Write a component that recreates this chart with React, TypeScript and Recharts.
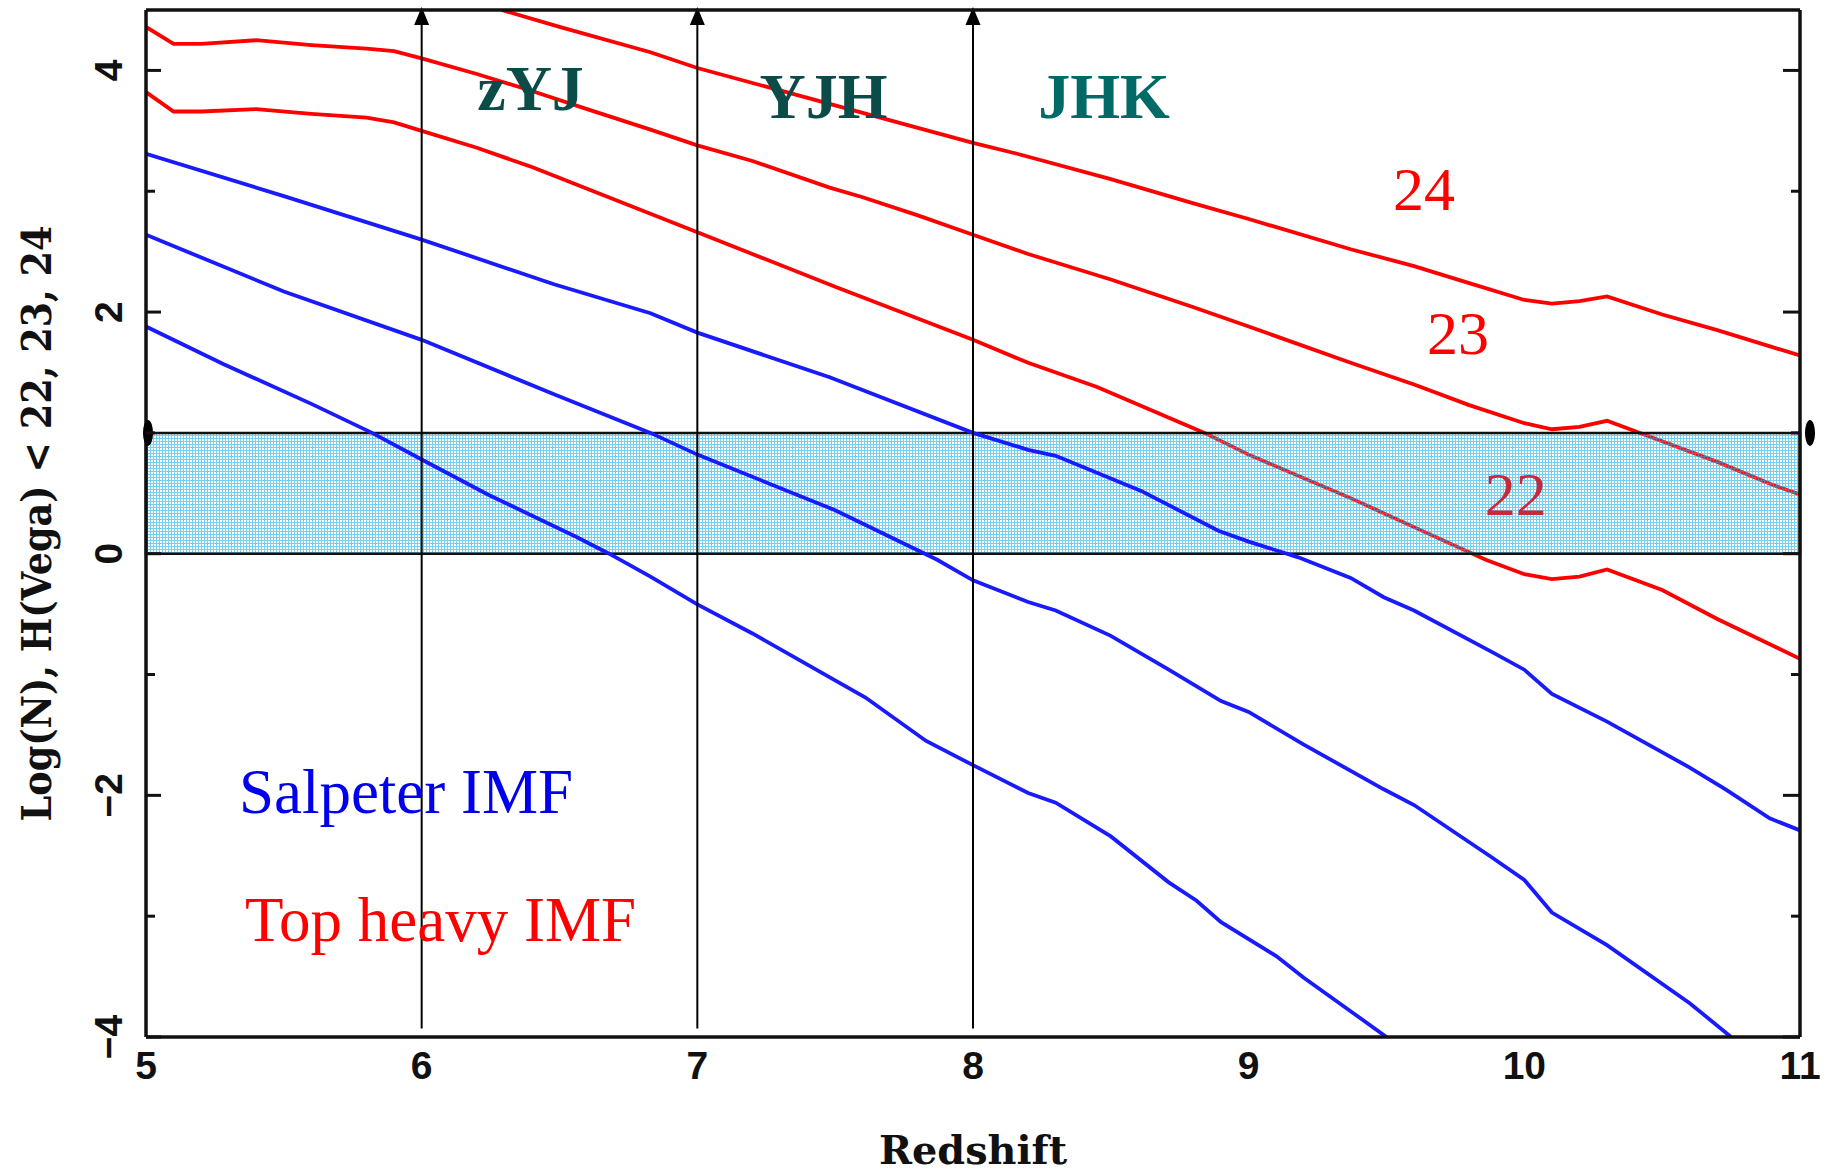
import React from 'react';
import {
  ComposedChart,
  Line,
  XAxis,
  YAxis,
  ReferenceArea,
  ReferenceLine,
  ReferenceDot,
} from 'recharts';

// ---------- data (redshift z, log N) ----------
const topHeavy24: [number, number][] = [
  [6.29, 4.5], [6.5, 4.36], [6.83, 4.15], [7.0, 4.02], [7.5, 3.71], [8.0, 3.4], [8.16, 3.31],
  [8.5, 3.1], [8.8, 2.9], [9.0, 2.77], [9.37, 2.52], [9.6, 2.38], [9.8, 2.24], [10.0, 2.1],
  [10.1, 2.07], [10.2, 2.09], [10.3, 2.13], [10.5, 1.98], [10.7, 1.85], [10.9, 1.71], [11.0, 1.64],
];
const topHeavy23: [number, number][] = [
  [5.0, 4.36], [5.1, 4.22], [5.2, 4.22], [5.4, 4.25], [5.6, 4.21], [5.8, 4.18], [5.9, 4.16],
  [6.0, 4.1], [6.2, 3.97], [6.4, 3.83], [6.6, 3.68], [6.83, 3.51], [7.0, 3.38], [7.2, 3.25],
  [7.48, 3.03], [7.6, 2.95], [7.8, 2.8], [8.0, 2.64], [8.2, 2.48], [8.5, 2.27], [8.8, 2.04],
  [9.0, 1.88], [9.37, 1.58], [9.6, 1.4], [9.8, 1.23], [10.0, 1.08], [10.1, 1.03], [10.2, 1.05],
  [10.3, 1.1], [10.5, 0.93], [10.7, 0.76], [10.9, 0.57], [11.0, 0.49],
];
const topHeavy22: [number, number][] = [
  [5.0, 3.82], [5.1, 3.66], [5.2, 3.66], [5.4, 3.68], [5.6, 3.64], [5.8, 3.61], [5.9, 3.57],
  [6.0, 3.5], [6.2, 3.36], [6.4, 3.2], [6.6, 3.02], [6.8, 2.84], [7.0, 2.66], [7.5, 2.21],
  [8.0, 1.77], [8.2, 1.58], [8.45, 1.38], [8.84, 1.0], [9.0, 0.82], [9.37, 0.46], [9.6, 0.22],
  [9.86, -0.05], [10.0, -0.17], [10.1, -0.21], [10.2, -0.19], [10.3, -0.13], [10.5, -0.3],
  [10.7, -0.54], [10.9, -0.76], [11.0, -0.87],
];
const salpeter24: [number, number][] = [
  [5.0, 3.31], [5.5, 2.96], [6.0, 2.6], [6.48, 2.23], [6.83, 1.99], [7.0, 1.83], [7.48, 1.46],
  [8.0, 1.0], [8.2, 0.86], [8.3, 0.81], [8.61, 0.52], [8.89, 0.19], [9.0, 0.1], [9.18, -0.03],
  [9.37, -0.2], [9.49, -0.36], [9.6, -0.47], [9.88, -0.81], [10.0, -0.96], [10.1, -1.16],
  [10.3, -1.39], [10.6, -1.77], [10.73, -1.95], [10.89, -2.19], [11.0, -2.29],
];
const salpeter23: [number, number][] = [
  [5.0, 2.64], [5.5, 2.17], [6.0, 1.77], [6.48, 1.32], [6.83, 1.0], [7.0, 0.82], [7.5, 0.36],
  [7.87, -0.05], [8.0, -0.22], [8.2, -0.4], [8.3, -0.47], [8.5, -0.68], [8.71, -0.96],
  [8.9, -1.22], [9.0, -1.31], [9.2, -1.58], [9.49, -1.95], [9.6, -2.08], [9.88, -2.51],
  [10.0, -2.7], [10.1, -2.97], [10.3, -3.24], [10.6, -3.72], [10.75, -4.0],
];
const salpeter22: [number, number][] = [
  [5.0, 1.88], [5.28, 1.57], [5.6, 1.24], [5.82, 1.0], [6.0, 0.78], [6.24, 0.49], [6.56, 0.14],
  [6.68, 0.0], [6.83, -0.19], [7.0, -0.42], [7.2, -0.66], [7.61, -1.19], [7.83, -1.55],
  [8.0, -1.75], [8.2, -1.98], [8.3, -2.06], [8.5, -2.34], [8.71, -2.72], [8.81, -2.87],
  [8.9, -3.05], [9.1, -3.33], [9.2, -3.51], [9.39, -3.82], [9.5, -4.0],
];

// ---------- ticks / ranges ----------
const xMajorTicks = [5, 6, 7, 8, 9, 10, 11];
const xAllTicks = [
  5, 5.2, 5.4, 5.6, 5.8, 6, 6.2, 6.4, 6.6, 6.8, 7, 7.2, 7.4, 7.6, 7.8, 8, 8.2, 8.4, 8.6, 8.8,
  9, 9.2, 9.4, 9.6, 9.8, 10, 10.2, 10.4, 10.6, 10.8, 11,
];
const yMajorTicks = [-4, -2, 0, 2, 4];
const yAllTicks = [-4, -3, -2, -1, 0, 1, 2, 3, 4];
const xDomain: [number, number] = [5, 11];
const yDomain: [number, number] = [-4, 4.5];
const band = { z1: 5, z2: 11, n1: 0, n2: 1 };
const filterArrowsZ = [6, 7, 8];
const arrowBottomN = -3.93;

const SERIF = '"Liberation Serif", "Times New Roman", serif';
const SERIF_BOLD_AXIS = '"DejaVu Serif", serif';
const SANS = '"Liberation Sans", Arial, sans-serif';

const notes = [
  { z: 6.395, n: 3.673, text: 'zYJ', color: '#0b4b48', weight: 'bold', size: 64, anchor: 'middle' },
  { z: 7.458, n: 3.607, text: 'YJH', color: '#0b4b48', weight: 'bold', size: 64, anchor: 'middle' },
  { z: 8.475, n: 3.607, text: 'JHK', color: '#006b66', weight: 'bold', size: 64, anchor: 'middle' },
  { z: 9.636, n: 2.847, text: '24', color: '#ff0000', weight: 'normal', size: 62, anchor: 'middle' },
  { z: 9.759, n: 1.653, text: '23', color: '#ff0000', weight: 'normal', size: 62, anchor: 'middle' },
  { z: 9.969, n: 0.323, text: '22', color: '#c8283a', weight: 'normal', size: 62, anchor: 'middle' },
  { z: 5.337, n: -2.147, text: 'Salpeter IMF', color: '#0000ee', weight: 'normal', size: 63, anchor: 'start' },
  { z: 5.359, n: -3.206, text: 'Top heavy IMF', color: '#ff0000', weight: 'normal', size: 63, anchor: 'start' },
];

const rows = (pts: [number, number][]) => pts.map(([z, n]) => ({ z, n }));

const redSeries = [
  { key: 'th24', pts: topHeavy24 },
  { key: 'th23', pts: topHeavy23 },
  { key: 'th22', pts: topHeavy22 },
];
const blueSeries = [
  { key: 'sp24', pts: salpeter24 },
  { key: 'sp23', pts: salpeter23 },
  { key: 'sp22', pts: salpeter22 },
];
const RED = '#ff0000';
const BLUE = '#1a1aff';

const AXIS_COLOR = '#111';
const axisLineStyle = { stroke: AXIS_COLOR, strokeWidth: 3.5 };

const fmt = (v: number) => (v < 0 ? '\u2212' + Math.abs(v) : String(v));
const isMajorX = (v: number) => Math.abs(v - Math.round(v)) < 1e-6;
const isMajorY = (v: number) => Math.abs(v) % 2 < 1e-6;

const XTick = (p: any) => (
  <text x={p.x} y={p.y + 42} textAnchor="middle" fontFamily={SANS} fontWeight="bold" fontSize={39} fill="#111">
    {fmt(p.payload.value)}
  </text>
);

const YTick = (p: any) => {
  const x = p.x - 24;
  const y = p.y;
  return (
    <text
      x={x}
      y={y}
      transform={`rotate(-90 ${x} ${y})`}
      textAnchor="middle"
      fontFamily={SANS}
      fontWeight="bold"
      fontSize={39}
      fill="#111"
    >
      {fmt(p.payload.value)}
    </text>
  );
};

// inward tick marks drawn by the mirrored frame axes
const makeTickMark = (side: 'bottom' | 'top' | 'left' | 'right') => (p: any) => {
  const v = p.payload.value;
  const major = side === 'bottom' || side === 'top' ? isMajorX(v) : isMajorY(v);
  const len = major ? (side === 'right' ? 17 : 15) : 9;
  let x2 = p.x, y2 = p.y;
  if (side === 'bottom') y2 = p.y - len;
  if (side === 'top') y2 = p.y + len;
  if (side === 'left') x2 = p.x + len;
  if (side === 'right') x2 = p.x - len;
  return <line x1={p.x} y1={p.y} x2={x2} y2={y2} stroke={AXIS_COLOR} strokeWidth={3} />;
};

const renderXLabel = (props: any) => {
  const vb = props.viewBox || { x: 146, y: 1037, width: 1654, height: 136 };
  const cx = vb.x + vb.width / 2;
  const cy = vb.y + 127;
  return (
    <text
      x={cx}
      y={cy}
      textAnchor="middle"
      fontFamily={SERIF_BOLD_AXIS}
      fontWeight="bold"
      fontSize={39}
      fill="#111"
      textLength={188}
      lengthAdjust="spacingAndGlyphs"
    >
      Redshift
    </text>
  );
};

const renderYLabel = (props: any) => {
  const vb = props.viewBox || { x: 0, y: 10, width: 146, height: 1027 };
  const cx = 51;
  const cy = vb.y + vb.height / 2;
  return (
    <text
      x={cx}
      y={cy}
      transform={`rotate(-90 ${cx} ${cy})`}
      textAnchor="middle"
      fontFamily={SERIF_BOLD_AXIS}
      fontWeight="bold"
      fontSize={41}
      fill="#111"
      textLength={596}
      lengthAdjust="spacingAndGlyphs"
    >
      {'Log(N),  H(Vega)  <  22,  23,  24'}
    </text>
  );
};

const ArrowShape = (p: any) => {
  const top = Math.min(p.y1, p.y2);
  const bottom = Math.max(p.y1, p.y2);
  const x = p.x1;
  return (
    <g>
      <line x1={x} y1={bottom} x2={x} y2={top + 12} stroke="#000" strokeWidth={2} />
      <polygon points={`${x},${top - 3} ${x - 7.5},${top + 15} ${x + 7.5},${top + 15}`} fill="#000" />
    </g>
  );
};

export default function App() {
  return (
    <div style={{ position: 'absolute', left: 0, top: 0, width: 1832, height: 1173, background: '#fff' }}>
      <ComposedChart width={1832} height={1173} margin={{ top: 10, right: 32, bottom: 0, left: 0 }}>
        <defs>
          <pattern id="bandTex" width="3" height="3" patternUnits="userSpaceOnUse">
            <rect width="3" height="3" fill="#ffffff" fillOpacity={0.08} />
            <rect width="1" height="3" fill="#14ace6" fillOpacity={0.58} />
            <rect x="1" width="2" height="1" fill="#14ace6" fillOpacity={0.58} />
          </pattern>
        </defs>

        {/* main axes (labels) */}
        <XAxis
          xAxisId="x"
          type="number"
          dataKey="z"
          domain={xDomain}
          ticks={xMajorTicks}
          interval={0}
          height={136}
          tickLine={false}
          axisLine={false}
          tickSize={0}
          tickMargin={0}
          tick={XTick}
          label={renderXLabel}
          allowDataOverflow
        />
        <YAxis
          yAxisId="y"
          type="number"
          domain={yDomain}
          ticks={yMajorTicks}
          interval={0}
          width={146}
          tickLine={false}
          axisLine={false}
          tickSize={0}
          tickMargin={0}
          tick={YTick}
          label={renderYLabel}
          allowDataOverflow
        />

        {/* frame with inward ticks on all four sides */}
        <XAxis xAxisId="xb" type="number" domain={xDomain} ticks={xAllTicks} interval={0} mirror height={1}
          tickSize={0} tickMargin={0} tickLine={false} tick={makeTickMark('bottom')} axisLine={axisLineStyle} allowDataOverflow />
        <XAxis xAxisId="xt" orientation="top" type="number" domain={xDomain} ticks={xAllTicks} interval={0} mirror height={1}
          tickSize={0} tickMargin={0} tickLine={false} tick={makeTickMark('top')} axisLine={axisLineStyle} allowDataOverflow />
        <YAxis yAxisId="yl" type="number" domain={yDomain} ticks={yAllTicks} interval={0} mirror width={1}
          tickSize={0} tickMargin={0} tickLine={false} tick={makeTickMark('left')} axisLine={axisLineStyle} allowDataOverflow />
        <YAxis yAxisId="yr" orientation="right" type="number" domain={yDomain} ticks={yAllTicks} interval={0} mirror width={1}
          tickSize={0} tickMargin={0} tickLine={false} tick={makeTickMark('right')} axisLine={axisLineStyle} allowDataOverflow />

        {/* top-heavy IMF curves (drawn beneath the band) */}
        {redSeries.map((s) => (
          <Line
            key={s.key}
            xAxisId="x"
            yAxisId="y"
            data={rows(s.pts)}
            dataKey="n"
            type="linear"
            stroke={RED}
            strokeWidth={3.8}
            dot={false}
            activeDot={false}
            isAnimationActive={false}
            zIndex={400}
          />
        ))}

        <ReferenceArea
          xAxisId="x"
          yAxisId="y"
          x1={band.z1}
          x2={band.z2}
          y1={band.n1}
          y2={band.n2}
          fill="url(#bandTex)"
          fillOpacity={1}
          stroke="#111"
          strokeWidth={2.5}
          ifOverflow="visible"
          zIndex={450}
        />

        {/* Salpeter IMF curves (drawn over the band) */}
        {blueSeries.map((s) => (
          <Line
            key={s.key}
            xAxisId="x"
            yAxisId="y"
            data={rows(s.pts)}
            dataKey="n"
            type="linear"
            stroke={BLUE}
            strokeWidth={3.8}
            dot={false}
            activeDot={false}
            isAnimationActive={false}
            zIndex={470}
          />
        ))}

        {filterArrowsZ.map((z) => (
          <ReferenceLine
            key={'arrow' + z}
            xAxisId="x"
            yAxisId="y"
            segment={[{ x: z, y: arrowBottomN }, { x: z, y: yDomain[1] }]}
            stroke="#000"
            strokeWidth={2}
            shape={ArrowShape}
            ifOverflow="visible"
            zIndex={480}
          />
        ))}

        <ReferenceDot
          xAxisId="x"
          yAxisId="y"
          x={band.z1}
          y={band.n2}
          r={1}
          ifOverflow="visible"
          zIndex={600}
          shape={(p: any) => <ellipse cx={p.cx + 2} cy={p.cy} rx={5} ry={13} fill="#000" />}
        />
        <ReferenceDot
          xAxisId="x"
          yAxisId="y"
          x={band.z2}
          y={band.n2}
          r={1}
          ifOverflow="visible"
          zIndex={600}
          shape={(p: any) => <ellipse cx={p.cx + 10} cy={p.cy} rx={5} ry={13} fill="#000" />}
        />

        {notes.map((t) => (
          <ReferenceDot
            key={t.text}
            xAxisId="x"
            yAxisId="y"
            x={t.z}
            y={t.n}
            r={1}
            ifOverflow="visible"
            zIndex={2000}
            shape={(p: any) => (
              <text
                x={p.cx}
                y={p.cy}
                textAnchor={t.anchor as any}
                fontFamily={SERIF}
                fontWeight={t.weight as any}
                fontSize={t.size}
                fill={t.color}
              >
                {t.text}
              </text>
            )}
          />
        ))}
      </ComposedChart>
    </div>
  );
}
